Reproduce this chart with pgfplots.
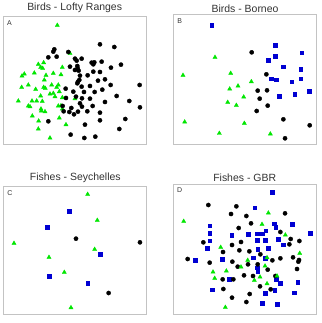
\documentclass[border=0pt]{standalone}
\usepackage{fontspec}
\setmainfont{Liberation Sans}
\usepackage{pgfplots}
\pgfplotsset{compat=1.18}
\definecolor{pgreen}{RGB}{0,230,0}
\definecolor{pblue}{RGB}{0,0,210}
\definecolor{frame}{RGB}{195,195,195}
\definecolor{ttl}{RGB}{50,50,50}
\pgfplotsset{
  panel/.style={scale only axis, axis lines=box, ticks=none, y dir=reverse,
    axis line style={frame, line width=0.8pt}, clip=false, anchor=north west},
  gm/.style={only marks, mark=triangle*, mark size=2.4pt, color=pgreen},
  bm/.style={only marks, mark=*, mark size=2.1pt, color=black},
  sm/.style={only marks, mark=square*, mark size=1.8pt, color=pblue},
}
\newcommand{\ttlfont}{\fontsize{10.5}{11}\selectfont}
\begin{document}
\begin{tikzpicture}
\path[use as bounding box] (0bp,0bp) rectangle (322bp,-323bp);
% Panel A
\begin{axis}[panel, at={(3.33bp,-16bp)}, width=143.3bp, height=128.3bp,
  xmin=10, xmax=440, ymin=48, ymax=433]
\addplot[gm] coordinates {(172,76) (210,160) (131,188) (115,193) (122,202) (128,205) (187,202) (73,222) (66,228) (103,219) (138,226) (160,220) (183,224) (85,255) (65,262) (133,240) (131,262) (107,268) (136,265) (155,255) (175,255) (170,262) (160,280) (178,275) (150,282) (122,288) (187,293) (165,290) (55,303) (96,303) (127,304) (90,320) (85,318) (175,318) (183,317) (123,327) (124,333) (225,296) (187,327) (97,348) (178,354) (116,363) (198,374) (115,387) (150,414) (135,335) (110,303)};
\addplot[bm] coordinates {(300,133) (343,141) (163,148) (160,155) (145,172) (170,170) (205,156) (225,176) (230,182) (245,176) (275,188) (283,187) (280,193) (305,185) (210,200) (225,210) (233,205) (232,198) (236,212) (263,226) (240,227) (280,215) (300,216) (333,203) (363,194) (238,240) (234,245) (232,250) (245,260) (270,258) (294,242) (315,238) (332,255) (307,269) (284,276) (220,275) (197,266) (198,294) (252,276) (228,290) (246,295) (270,296) (350,288) (419,255) (388,303) (315,306) (420,322) (278,318) (240,310) (214,324) (208,336) (222,343) (191,334) (234,335) (262,334) (300,338) (300,361) (145,364) (255,374) (376,357) (358,387) (212,404) (253,414) (286,410) (188,318) (246,320)};
\node[font=\ttlfont, text=ttl] at (axis cs:224,24) {Birds - Lofty Ranges};
\node[font=\fontsize{7}{8}\selectfont, text=ttl] at (axis cs:28,70) {A};
\end{axis}
% Panel B
\begin{axis}[panel, at={(173.67bp,-14bp)}, width=142.7bp, height=130.3bp,
  xmin=38, xmax=466, ymin=42, ymax=433]
\addplot[sm] coordinates {(152,76) (342,135) (422,158) (322,181) (342,168) (366,200) (419,208) (331,236) (346,239) (392,245) (419,236) (444,274) (401,282) (354,289)};
\addplot[bm] coordinates {(272,157) (316,223) (290,272) (318,271) (296,296) (320,317) (287,333) (367,358) (446,376) (372,415)};
\addplot[gm] coordinates {(162,172) (66,226) (209,220) (271,245) (231,258) (206,267) (248,291) (200,307) (226,316) (71,366) (250,370) (175,400) (328,402)};
\node[font=\ttlfont, text=ttl] at (axis cs:252,26) {Birds - Borneo};
\node[font=\fontsize{7}{8}\selectfont, text=ttl] at (axis cs:56,62) {B};
\end{axis}
% Panel C
\begin{axis}[panel, at={(3.33bp,-186.33bp)}, width=143.3bp, height=128bp,
  xmin=10, xmax=440, ymin=76, ymax=460]
\addplot[gm] coordinates {(263,100) (292,178) (42,247) (284,265) (147,289) (193,334) (213,440)};
\addplot[sm] coordinates {(208,150) (141,198) (301,280) (148,346) (263,367)};
\addplot[bm] coordinates {(228,233) (420,244) (326,396)};
\node[font=\ttlfont, text=ttl] at (axis cs:226,50) {Fishes - Seychelles};
\node[font=\fontsize{7}{8}\selectfont, text=ttl] at (axis cs:30,95) {C};
\end{axis}
% Panel D
\begin{axis}[panel, at={(173.67bp,-184.33bp)}, width=142.7bp, height=130bp,
  xmin=38, xmax=466, ymin=70, ymax=460]
\addplot[sm] coordinates {(334,93) (281,140) (339,188) (344,198) (394,190) (303,218) (146,194) (146,216) (146,239) (138,262) (103,297) (212,222) (261,219) (289,218) (314,209) (288,237) (313,237) (352,235) (366,251) (447,216) (321,262) (290,265) (183,294) (277,290) (312,291) (288,320) (290,332) (204,354) (345,354) (357,366) (410,364) (153,386) (341,387) (399,395) (312,396) (304,426) (348,430)};
\addplot[bm] coordinates {(142,132) (226,136) (210,159) (256,165) (372,157) (270,187) (233,201) (358,213) (389,234) (415,240) (127,244) (213,252) (240,243) (385,250) (235,268) (265,271) (186,273) (298,280) (80,294) (146,305) (214,302) (334,298) (358,292) (396,289) (414,297) (230,317) (261,310) (290,310) (412,302) (408,324) (320,326) (185,355) (217,355) (249,343) (276,345) (297,376) (343,345) (187,384) (266,399) (213,410) (256,423) (329,385)};
\addplot[gm] coordinates {(68,181) (322,156) (303,190) (373,222) (179,259) (416,277) (156,333) (196,330) (240,318) (260,298) (312,315) (161,352) (280,358) (297,348) (348,345) (318,368) (193,439) (318,290)};
\node[font=\ttlfont, text=ttl] at (axis cs:251,50) {Fishes - GBR};
\node[font=\fontsize{7}{8}\selectfont, text=ttl] at (axis cs:56,88) {D};
\end{axis}
\end{tikzpicture}
\end{document}
